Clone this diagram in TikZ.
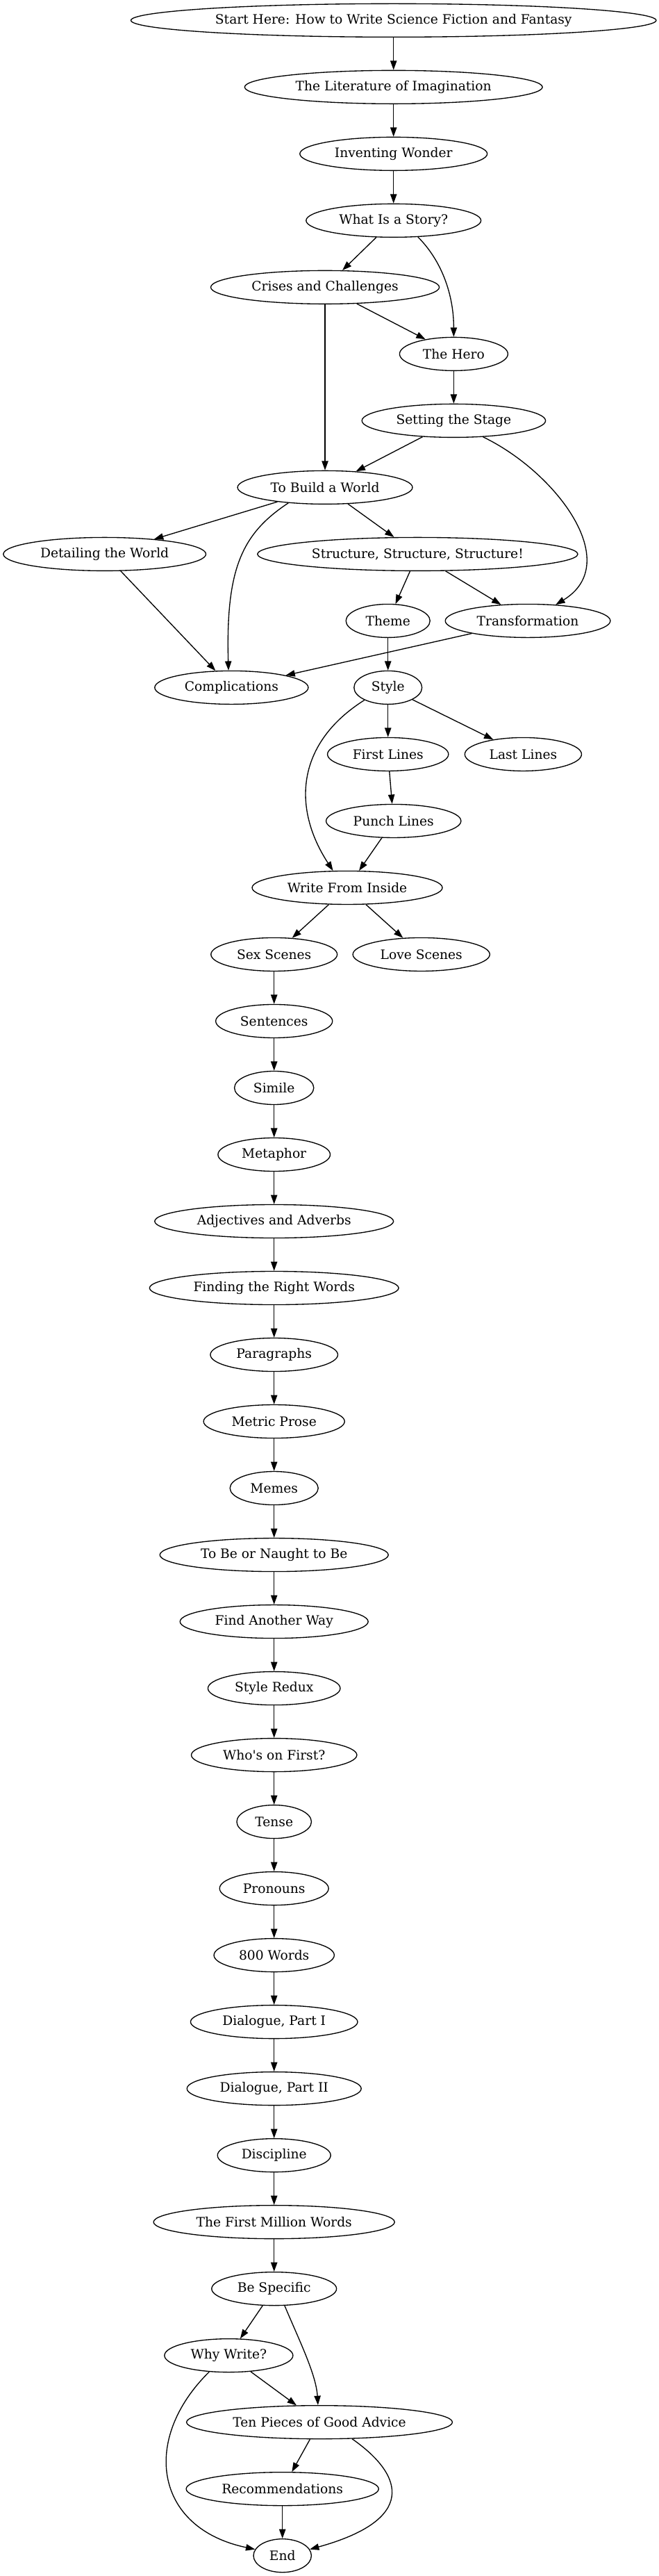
\documentclass[tikz,border=0pt]{standalone}
\usepackage{fontspec}
\setmainfont{DejaVu Serif}
\usepackage{tikz}
\usetikzlibrary{shapes.geometric, arrows.meta}

\begin{document}
\begin{tikzpicture}[x=1pt, y=1pt,
  topic/.style={ellipse, draw, line width=1pt, inner xsep=8pt, inner ysep=0pt,
    minimum height=36pt, minimum width=54pt, font=\fontsize{14}{17}\selectfont},
  arr/.style={line width=1pt, -{Triangle[length=10pt, width=7pt]}}]
\useasboundingbox (0,0) rectangle (711,-2780);

\node[topic] (start) at (425,-22) {Start Here: How to Write Science Fiction and Fantasy};
\node[topic] (lit) at (425,-94) {The Literature of Imagination};
\node[topic] (inv) at (425,-166) {Inventing Wonder};
\node[topic] (story) at (425,-238) {What Is a Story?};
\node[topic] (crises) at (351,-310) {Crises and Challenges};
\node[topic] (hero) at (490,-382) {The Hero};
\node[topic] (stage) at (490,-454) {Setting the Stage};
\node[topic] (build) at (351,-526) {To Build a World};
\node[topic] (detail) at (113,-598) {Detailing the World};
\node[topic] (struct) at (451,-598) {Structure, Structure, Structure!};
\node[topic] (theme) at (419,-670) {Theme};
\node[topic] (transf) at (570,-670) {Transformation};
\node[topic] (compl) at (250,-742) {Complications};
\node[topic] (style) at (419,-742) {Style};
\node[topic] (first) at (419,-814) {First Lines};
\node[topic] (last) at (565,-814) {Last Lines};
\node[topic] (punch) at (425,-886) {Punch Lines};
\node[topic] (inside) at (375,-958) {Write From Inside};
\node[topic] (sex) at (296,-1030) {Sex Scenes};
\node[topic] (love) at (455,-1030) {Love Scenes};
\node[topic] (sent) at (296,-1102) {Sentences};
\node[topic] (simile) at (296,-1174) {Simile};
\node[topic] (metaphor) at (296,-1246) {Metaphor};
\node[topic] (adj) at (296,-1318) {Adjectives and Adverbs};
\node[topic] (words) at (296,-1390) {Finding the Right Words};
\node[topic] (para) at (296,-1462) {Paragraphs};
\node[topic] (metric) at (296,-1534) {Metric Prose};
\node[topic] (memes) at (296,-1606) {Memes};
\node[topic] (tobe) at (296,-1678) {To Be or Naught to Be};
\node[topic] (another) at (296,-1750) {Find Another Way};
\node[topic] (redux) at (296,-1822) {Style Redux};
\node[topic] (who) at (296,-1894) {Who\textquotesingle s on First?};
\node[topic] (tense) at (296,-1966) {Tense};
\node[topic] (pron) at (296,-2038) {Pronouns};
\node[topic] (eight) at (296,-2110) {800 Words};
\node[topic] (dlgone) at (296,-2182) {Dialogue, Part I};
\node[topic] (dlgtwo) at (296,-2254) {Dialogue, Part II};
\node[topic] (disc) at (296,-2326) {Discipline};
\node[topic] (million) at (296,-2398) {The First Million Words};
\node[topic] (specific) at (296,-2470) {Be Specific};
\node[topic] (why) at (247,-2542) {Why Write?};
\node[topic] (ten) at (345,-2614) {Ten Pieces of Good Advice};
\node[topic] (recs) at (305,-2686) {Recommendations};
\node[topic] (fin) at (305,-2758) {End};

\draw[arr] (start) -- (lit);
\draw[arr] (lit) -- (inv);
\draw[arr] (inv) -- (story);
\draw[arr] (story) -- (crises);
\draw[arr] (story.-34) .. controls +(26,-26) and +(0,45) .. (hero.north);
\draw[arr] (crises) -- (hero);
\draw[arr] (crises) -- (build);
\draw[arr] (hero) -- (stage);
\draw[arr] (stage) -- (build);
\draw[arr] (stage.-29) .. controls +(79,-38) and +(74,45) .. (transf.30);
\draw[arr] (build) -- (detail);
\draw[arr] (build.-157) .. controls +(-50,-33) and +(-3,110) .. (compl.100);
\draw[arr] (build) -- (struct);
\draw[arr] (detail) -- (compl);
\draw[arr] (struct) -- (theme);
\draw[arr] (struct) -- (transf);
\draw[arr] (transf) -- (compl);
\draw[arr] (theme) -- (style);
\draw[arr] (style) -- (first);
\draw[arr] (style) -- (last);
\draw[arr] (style.-152) .. controls +(-73,-46) and +(-45,69) .. (inside.130);
\draw[arr] (first) -- (punch);
\draw[arr] (punch) -- (inside);
\draw[arr] (inside) -- (sex);
\draw[arr] (inside) -- (love);
\draw[arr] (sex) -- (sent);
\draw[arr] (sent) -- (simile);
\draw[arr] (simile) -- (metaphor);
\draw[arr] (metaphor) -- (adj);
\draw[arr] (adj) -- (words);
\draw[arr] (words) -- (para);
\draw[arr] (para) -- (metric);
\draw[arr] (metric) -- (memes);
\draw[arr] (memes) -- (tobe);
\draw[arr] (tobe) -- (another);
\draw[arr] (another) -- (redux);
\draw[arr] (redux) -- (who);
\draw[arr] (who) -- (tense);
\draw[arr] (tense) -- (pron);
\draw[arr] (pron) -- (eight);
\draw[arr] (eight) -- (dlgone);
\draw[arr] (dlgone) -- (dlgtwo);
\draw[arr] (dlgtwo) -- (disc);
\draw[arr] (disc) -- (million);
\draw[arr] (million) -- (specific);
\draw[arr] (specific) -- (why);
\draw[arr] (specific.-58) .. controls +(16,-38) and +(-2,33) .. (ten.95);
\draw[arr] (why) -- (ten);
\draw[arr] (why.-140) .. controls +(-73.5,-72) and +(-109.5,23) .. (fin.167);
\draw[arr] (ten) -- (recs);
\draw[arr] (ten.-27) .. controls +(58,-40.5) and +(114,31.5) .. (fin.13);
\draw[arr] (recs) -- (fin);
\end{tikzpicture}
\end{document}
